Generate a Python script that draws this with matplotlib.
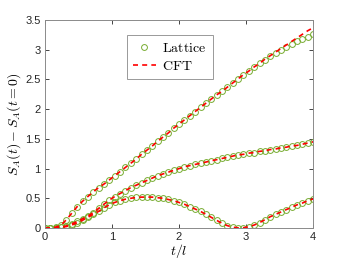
import numpy as np
import matplotlib
matplotlib.use('Agg')
import matplotlib.pyplot as plt

plt.rcParams['mathtext.fontset'] = 'cm'
plt.rcParams['font.family'] = ['Liberation Sans', 'DejaVu Sans']

# time grid t/l (lattice samples)
t = np.arange(51) * 0.08

# entanglement growth, three cases
top_lat = [0.0, 0.003, 0.015, 0.05, 0.14, 0.25, 0.36, 0.45, 0.53, 0.61,
           0.68, 0.74, 0.81, 0.88, 0.95, 1.02, 1.09, 1.16, 1.24, 1.31,
           1.38, 1.46, 1.53, 1.60, 1.68, 1.75, 1.82, 1.89, 1.96, 2.03,
           2.10, 2.17, 2.24, 2.30, 2.37, 2.44, 2.51, 2.58, 2.64, 2.71,
           2.77, 2.83, 2.89, 2.95, 3.00, 3.05, 3.10, 3.14, 3.18, 3.22,
           3.26]
top_cft = [0.0, 0.003, 0.015, 0.05, 0.14, 0.25, 0.36, 0.45, 0.53, 0.61,
           0.68, 0.74, 0.81, 0.88, 0.95, 1.02, 1.09, 1.16, 1.24, 1.31,
           1.38, 1.46, 1.53, 1.60, 1.68, 1.75, 1.82, 1.89, 1.96, 2.03,
           2.10, 2.17, 2.24, 2.30, 2.37, 2.44, 2.51, 2.58, 2.64, 2.71,
           2.77, 2.84, 2.90, 2.96, 3.02, 3.08, 3.14, 3.20, 3.26, 3.32,
           3.37]
mid_lat = [0.0, 0.0, 0.005, 0.015, 0.035, 0.07, 0.11, 0.155, 0.20, 0.26,
           0.33, 0.40, 0.47, 0.53, 0.58, 0.63, 0.68, 0.72, 0.76, 0.80,
           0.84, 0.88, 0.91, 0.94, 0.97, 1.00, 1.03, 1.05, 1.07, 1.09,
           1.11, 1.13, 1.15, 1.17, 1.19, 1.21, 1.23, 1.24, 1.26, 1.27,
           1.29, 1.30, 1.32, 1.33, 1.35, 1.36, 1.38, 1.39, 1.41, 1.43,
           1.45]
mid_cft = mid_lat
bot_lat = [0.0, 0.0, 0.003, 0.01, 0.025, 0.05, 0.085, 0.13, 0.18, 0.23,
           0.28, 0.34, 0.39, 0.43, 0.46, 0.485, 0.50, 0.515, 0.52, 0.52,
           0.52, 0.51, 0.50, 0.48, 0.46, 0.43, 0.40, 0.36, 0.32, 0.28,
           0.23, 0.18, 0.13, 0.08, 0.04, 0.015, 0.003, 0.005, 0.02, 0.05,
           0.09, 0.14, 0.19, 0.23, 0.27, 0.31, 0.35, 0.39, 0.42, 0.46,
           0.49]
bot_cft = bot_lat

green = '#77AC30'

fig = plt.figure(figsize=(3.46, 2.60), dpi=100)
ax = fig.add_axes([0.130, 0.123, 0.775, 0.800])

for i, y in enumerate([top_lat, mid_lat, bot_lat]):
    ax.plot(t, y, 'o', mfc='none', mec=green, ms=4.2, mew=0.7,
            label='Lattice' if i == 0 else None)
for i, y in enumerate([top_cft, mid_cft, bot_cft]):
    ax.plot(t, y, '--', color='r', lw=1.2, dashes=(3, 2.5),
            label='CFT' if i == 0 else None)

ax.set_xlim(0, 4)
ax.set_ylim(0, 3.5)
ax.set_xticks([0, 1, 2, 3, 4])
ax.set_yticks(np.arange(0, 3.51, 0.5))
ax.set_yticklabels(['0', '0.5', '1', '1.5', '2', '2.5', '3', '3.5'])
ax.tick_params(direction='in', length=3, width=0.6, top=True, right=True,
               labelsize=8, colors='#262626', pad=3)
for s in ax.spines.values():
    s.set_color('#8a8a8a')
    s.set_linewidth(0.7)

ax.set_xlabel(r'$t/l$', fontsize=10, labelpad=0)
ax.set_ylabel(r'$S_A(t)-S_A(t=0)$', fontsize=10, labelpad=2)

leg = ax.legend(loc='upper left', bbox_to_anchor=(0.306, 0.93),
                prop={'family': 'DejaVu Serif', 'size': 10},
                fancybox=False, framealpha=1, edgecolor='#999999',
                handlelength=1.6, handletextpad=0.5, borderpad=0.45,
                labelspacing=0.3, borderaxespad=0)
leg.get_frame().set_linewidth(0.7)
for txt in leg.get_texts():
    txt.set_text(r'$\mathrm{%s}$' % txt.get_text())

fig.savefig('out.png', dpi=100)
